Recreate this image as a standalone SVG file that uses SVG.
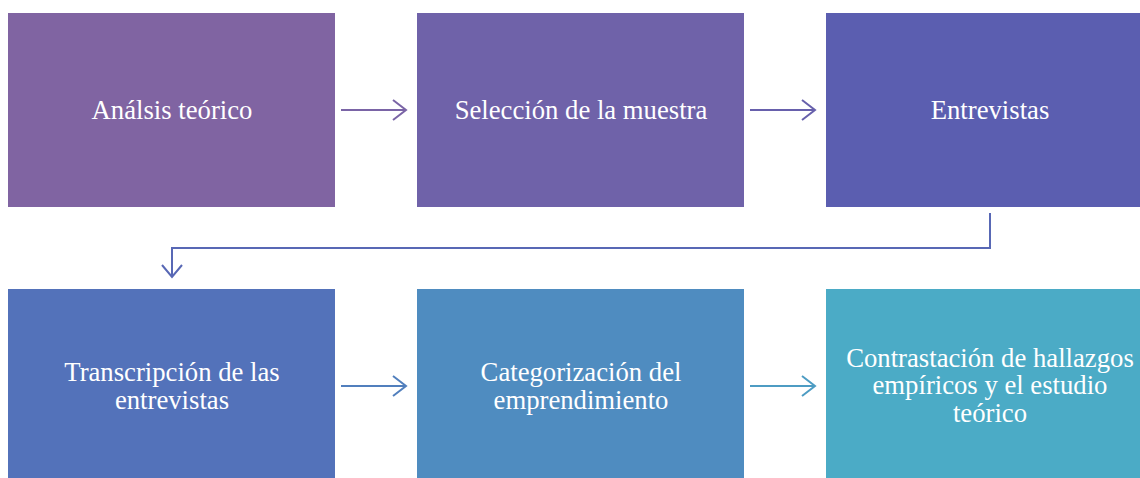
<svg xmlns="http://www.w3.org/2000/svg" width="1140" height="478" viewBox="0 0 1140 478">
<defs>
<style>
.t{font-family:"Liberation Serif","Times New Roman",serif;font-size:26.7px;fill:#fff;text-anchor:middle}
.c{fill:none;stroke-width:2}
</style>
</defs>
<rect width="1140" height="478" fill="#fff"/>
<g id="n1"><rect x="8" y="13" width="327" height="194" fill="#8064A2"/><text class="t" x="172" y="119">Análsis teórico</text></g>
<g id="n2"><rect x="417" y="13" width="327" height="194" fill="#6F62A9"/><text class="t" x="581" y="119">Selección de la muestra</text></g>
<g id="n3"><rect x="826" y="13" width="327" height="194" fill="#5B5EB0"/><text class="t" x="990" y="119">Entrevistas</text></g>
<g id="n4"><rect x="8" y="289" width="327" height="194" fill="#5372BA"/><text class="t" x="172" y="381">Transcripción de las</text><text class="t" x="172" y="409">entrevistas</text></g>
<g id="n5"><rect x="417" y="289" width="327" height="194" fill="#4F8CC0"/><text class="t" x="581" y="381">Categorización del</text><text class="t" x="581" y="409">emprendimiento</text></g>
<g id="n6"><rect x="826" y="289" width="327" height="194" fill="#4BABC6"/><text class="t" x="990" y="367">Contrastación de hallazgos</text><text class="t" x="990" y="394">empíricos y el estudio</text><text class="t" x="990" y="422">teórico</text></g>
<g id="connectors">
<path class="c" stroke="#7A64A6" d="M341 110H406M393 100L406 110L393 120"/>
<path class="c" stroke="#6760AC" d="M750 110H815M802 100L815 110L802 120"/>
<path class="c" stroke="#5868B5" d="M990 213V248H172V277M162 265L172 277L182 265"/>
<path class="c" stroke="#517FBD" d="M341 386H406M393 376L406 386L393 396"/>
<path class="c" stroke="#4D9CC3" d="M750 386H815M802 376L815 386L802 396"/>
</g>
</svg>
